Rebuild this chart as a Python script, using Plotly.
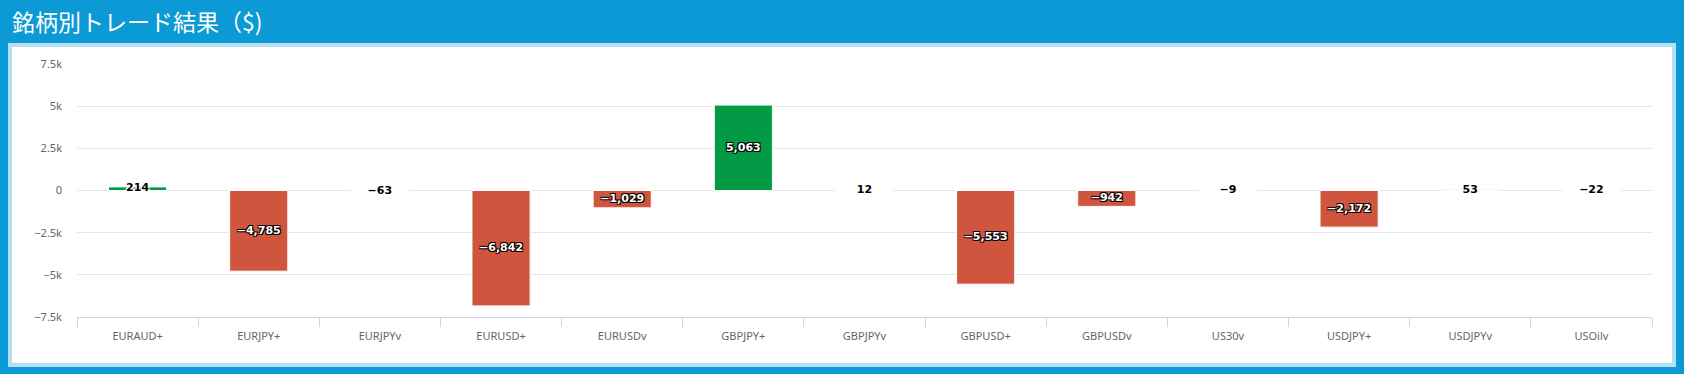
import plotly.graph_objects as go

# ---- data ----
categories = ["EURAUD+", "EURJPY+", "EURJPYv", "EURUSD+", "EURUSDv", "GBPJPY+",
              "GBPJPYv", "GBPUSD+", "GBPUSDv", "US30v", "USDJPY+", "USDJPYv", "USOilv"]
results = [214, -4785, -63, -6842, -1029, 5063, 12, -5553, -942, -9, -2172, 53, -22]
y_tickvals = [-7500, -5000, -2500, 0, 2500, 5000, 7500]
y_ticktext = ["−7.5k", "−5k", "−2.5k", "0", "2.5k", "5k", "7.5k"]
title_text = "銘柄別トレード結果（$)"

# ---- style ----
W, H = 1684, 374
L, R, T, B = 77, 32, 64, 57
PW, PH = W - L - R, H - T - B
BLUE = "#0b9ad5"
LIGHT = "#b5e0f1"
RED = "#d0553f"
GREEN = "#039a45"


def px_x(px):
    return (px - L) / PW


def px_y(py):
    return (H - B - py) / PH


def fmt(v):
    s = f"{abs(v):,}"
    return ("−" + s) if v < 0 else s


colors = [GREEN if v >= 0 else RED for v in results]

fig = go.Figure()
fig.add_trace(go.Bar(
    x=categories, y=results,
    marker=dict(color=colors, line=dict(color="#ffffff", width=1)),
    width=0.48, hoverinfo="skip", showlegend=False,
))

THRESH = 500
inside = [(c, v) for c, v in zip(categories, results) if abs(v) >= THRESH]
outside = [(c, v) for c, v in zip(categories, results) if abs(v) < THRESH]

fig.add_trace(go.Scatter(
    x=[c for c, v in inside], y=[v / 2 for c, v in inside],
    text=[fmt(v) for c, v in inside], mode="text",
    textfont=dict(family="DejaVu Sans", size=11, color="#ffffff", weight="bold",
                  shadow="1px 1px 0 #000, -1px -1px 0 #000, 1px -1px 0 #000, -1px 1px 0 #000"),
    hoverinfo="skip", showlegend=False,
))
fig.add_trace(go.Scatter(
    x=[c for c, v in outside], y=[v / 2 for c, v in outside],
    text=[fmt(v) for c, v in outside], mode="text",
    textfont=dict(family="DejaVu Sans", size=11, color="#000000", weight="bold",
                  shadow="1px 1px 0 #fff, -1px -1px 0 #fff, 1px -1px 0 #fff, -1px 1px 0 #fff"),
    hoverinfo="skip", showlegend=False,
))

shapes = [
    dict(type="rect", xref="paper", yref="paper", layer="below",
         x0=px_x(8), x1=px_x(1676), y0=px_y(367), y1=px_y(43),
         fillcolor=LIGHT, line=dict(width=0)),
    dict(type="rect", xref="paper", yref="paper", layer="below",
         x0=px_x(12), x1=px_x(1672), y0=px_y(363), y1=px_y(47),
         fillcolor="#ffffff", line=dict(width=0)),
]

fig.update_layout(
    width=W, height=H,
    margin=dict(l=L, r=R, t=T, b=B, pad=0),
    paper_bgcolor=BLUE, plot_bgcolor="rgba(0,0,0,0)",
    shapes=shapes,
    annotations=[dict(
        text=title_text, xref="paper", yref="paper",
        x=px_x(10), y=px_y(21), xanchor="left", yanchor="middle",
        showarrow=False, font=dict(family="Noto Sans CJK JP", size=23, color="#ffffff"),
    )],
    xaxis=dict(
        type="category", range=[-0.5, len(categories) - 0.5],
        showgrid=False, zeroline=False,
        showline=True, linecolor="#ccd6eb", linewidth=1,
        ticks="outside", tickson="boundaries", ticklen=9, tickcolor="#ccd6eb",
        ticklabelstandoff=9,
        tickfont=dict(family="Noto Sans", size=11, color="#666666"),
        fixedrange=True,
    ),
    yaxis=dict(
        range=[-7500, 7500], tickvals=y_tickvals, ticktext=y_ticktext,
        showgrid=True, gridcolor="#e6e6e6", gridwidth=1,
        zeroline=True, zerolinecolor="#e6e6e6", zerolinewidth=1,
        showline=False, ticks="", ticklabelstandoff=14,
        tickfont=dict(family="Noto Sans", size=11, color="#666666"),
        fixedrange=True,
    ),
)

fig.write_html("out.html", config={"displayModeBar": False},
               post_script="document.body.style.margin='0';document.body.style.overflow='hidden';")
